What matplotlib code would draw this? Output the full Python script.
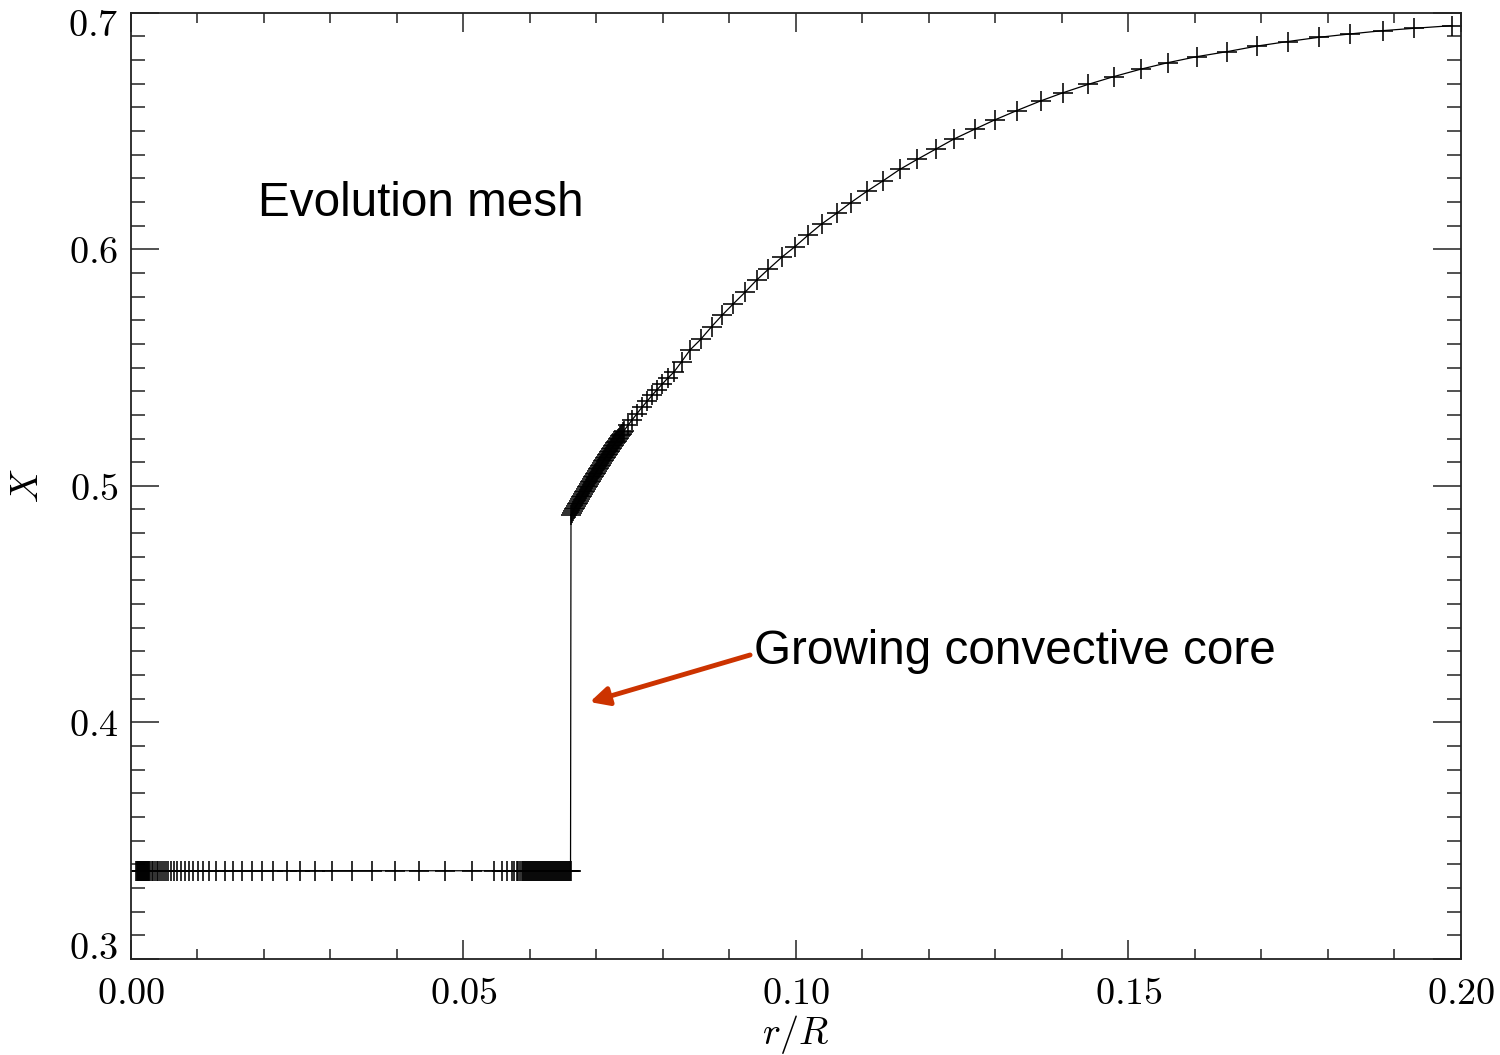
import numpy as np
import matplotlib
matplotlib.use("Agg")
import matplotlib.pyplot as plt
import matplotlib.transforms as mtransforms
from matplotlib.ticker import MultipleLocator, FuncFormatter

plt.rcParams['mathtext.fontset'] = 'cm'

# flat part: hydrogen abundance inside the convective core
r_core = [0.0008, 0.0009, 0.0010, 0.0011, 0.0012, 0.0013, 0.0014, 0.0015, 0.0016, 0.0017,
          0.0018, 0.0019, 0.0020, 0.0021, 0.0022, 0.0023, 0.0024, 0.0025, 0.0026, 0.0027,
          0.00293, 0.00316, 0.00338, 0.00361, 0.00386, 0.00409, 0.00433, 0.00462, 0.00492,
          0.00526, 0.00564, 0.00602, 0.00647, 0.00696, 0.00752, 0.00808, 0.00868, 0.00932,
          0.01008, 0.01087, 0.0118, 0.01278, 0.01414, 0.01534, 0.01669, 0.0182, 0.0197,
          0.02135, 0.02341, 0.02541, 0.02767, 0.0303, 0.03319, 0.03624, 0.0397, 0.04331,
          0.04722, 0.05128, 0.05459, 0.05586, 0.05658, 0.05725, 0.05764, 0.058, 0.05824, 0.0585,
          0.0588, 0.0590, 0.0591, 0.0593, 0.0594, 0.0596, 0.0597, 0.0599, 0.0600, 0.0602,
          0.0603, 0.0605, 0.0606, 0.0608, 0.0609, 0.0611, 0.0612, 0.0614, 0.0615, 0.0617,
          0.0618, 0.0620, 0.0621, 0.0623, 0.0624, 0.0626, 0.0627, 0.0629, 0.0630, 0.0632,
          0.0633, 0.0635, 0.0636, 0.0638, 0.0639, 0.0641, 0.0642, 0.0644, 0.0645, 0.0647,
          0.0648, 0.0650, 0.0651, 0.0653, 0.0654, 0.0656, 0.0657, 0.0659, 0.0660, 0.0661]
X_core = 0.3373

# outside the core
r_env = [0.06617, 0.06632, 0.06647, 0.06662, 0.06677, 0.06692, 0.06707, 0.06722, 0.06737,
         0.06752, 0.06767, 0.06782, 0.06797, 0.06812, 0.06827, 0.06842, 0.06857, 0.06872,
         0.06887, 0.06902, 0.06917, 0.06932, 0.06947, 0.06962, 0.06977, 0.06992, 0.07008,
         0.07023, 0.07038, 0.07053, 0.07068, 0.07083, 0.07098, 0.07113, 0.07128, 0.07143,
         0.07158, 0.07173, 0.07188, 0.07203, 0.07218, 0.07233, 0.07248, 0.07263, 0.07278,
         0.07293, 0.07308, 0.07323, 0.07338, 0.07353, 0.07368, 0.07383, 0.07398, 0.07414,
         0.07474, 0.07534, 0.07609, 0.07684, 0.07759, 0.07835, 0.07910, 0.07985, 0.08075,
         0.08165, 0.08281, 0.08406, 0.08567, 0.08732, 0.08892, 0.09057, 0.09233, 0.09409,
         0.09583, 0.09785, 0.09985, 0.10185, 0.10386, 0.10612, 0.10823, 0.11072, 0.11313,
         0.11564, 0.11824, 0.12105, 0.12376, 0.12692, 0.12992, 0.13319, 0.13680, 0.14020,
         0.14395, 0.14782, 0.15183, 0.15598, 0.16026, 0.16477, 0.16937, 0.17394, 0.17869,
         0.18331, 0.18822, 0.19298, 0.19860]
X_env = [0.4877, 0.4884, 0.4892, 0.4900, 0.4907, 0.4914, 0.4922, 0.4929, 0.4937,
         0.4944, 0.4951, 0.4958, 0.4966, 0.4973, 0.4980, 0.4987, 0.4994, 0.5001,
         0.5008, 0.5015, 0.5022, 0.5029, 0.5036, 0.5043, 0.5050, 0.5056, 0.5063,
         0.5070, 0.5077, 0.5083, 0.5090, 0.5096, 0.5103, 0.5110, 0.5116, 0.5122,
         0.5129, 0.5135, 0.5142, 0.5148, 0.5154, 0.5160, 0.5167, 0.5173, 0.5179,
         0.5185, 0.5191, 0.5197, 0.5203, 0.5209, 0.5215, 0.5221, 0.5227, 0.5233,
         0.5256, 0.5278, 0.5305, 0.5332, 0.5357, 0.5382, 0.5406, 0.5429, 0.5456,
         0.5481, 0.5525, 0.5574, 0.5619, 0.5673, 0.5722, 0.5769, 0.5818, 0.5870,
         0.5915, 0.5966, 0.6011, 0.6060, 0.6107, 0.6152, 0.6197, 0.6246, 0.6290,
         0.6338, 0.6380, 0.6424, 0.6466, 0.6508, 0.6547, 0.6586, 0.6627, 0.6662,
         0.6697, 0.6730, 0.6761, 0.6789, 0.6814, 0.6835, 0.6859, 0.6878, 0.6896,
         0.6910, 0.6924, 0.6934, 0.6945]

r = r_core + r_env
X = [X_core] * len(r_core) + X_env

fig = plt.figure(figsize=(15, 10.55), dpi=100)
ax = fig.add_axes([0.0873, 0.091, 0.8867, 0.897])

ax.plot(r, X, color='black', lw=0.9, marker='+', ms=14.5, mew=1.15)

ax.set_xlim(0.0, 0.2)
ax.set_ylim(0.3, 0.7)

ax.xaxis.set_major_locator(MultipleLocator(0.05))
ax.xaxis.set_minor_locator(MultipleLocator(0.01))
ax.yaxis.set_major_locator(MultipleLocator(0.1))
ax.yaxis.set_minor_locator(MultipleLocator(0.01))
ax.xaxis.set_major_formatter(FuncFormatter(lambda v, p: r'$%.2f$' % v))
ax.yaxis.set_major_formatter(FuncFormatter(lambda v, p: r'$%.1f$' % v))

ax.tick_params(axis='both', which='both', direction='in', top=True, right=True,
               color='#333333', width=1.2, labelsize=27.5)
ax.tick_params(axis='x', which='major', length=14, pad=12)
ax.tick_params(axis='x', which='minor', length=7)
ax.tick_params(axis='y', which='major', length=20, pad=9)
ax.tick_params(axis='y', which='minor', length=10)
for s in ax.spines.values():
    s.set_linewidth(1.3)
    s.set_color('#222222')

# IDL style: end labels of the y axis are nudged inside the frame
fig.canvas.draw()
for t in ax.yaxis.get_major_ticks():
    if abs(t.get_loc() - 0.3) < 1e-6:
        t.label1.set_transform(t.label1.get_transform()
                               + mtransforms.ScaledTranslation(0, 10 / 72, fig.dpi_scale_trans))
    elif abs(t.get_loc() - 0.7) < 1e-6:
        t.label1.set_transform(t.label1.get_transform()
                               + mtransforms.ScaledTranslation(0, -6.5 / 72, fig.dpi_scale_trans))

ax.set_xlabel(r'$r/R$', fontsize=27.5, labelpad=1)
ax.set_ylabel(r'$X$', fontsize=27.5, labelpad=16)

ax.text(0.0191, 0.6141, 'Evolution mesh', fontsize=34.3, family='Liberation Sans',
        va='baseline')
ax.text(0.0937, 0.4247, 'Growing convective core', fontsize=34.3, family='Liberation Sans',
        va='baseline')
ax.annotate('', xy=(0.0690, 0.4086), xytext=(0.0931, 0.4285),
            arrowprops=dict(arrowstyle='-|>', color='#CC3300', lw=3.5,
                            mutation_scale=28, shrinkA=0, shrinkB=0))

fig.savefig('out.png', dpi=100)
